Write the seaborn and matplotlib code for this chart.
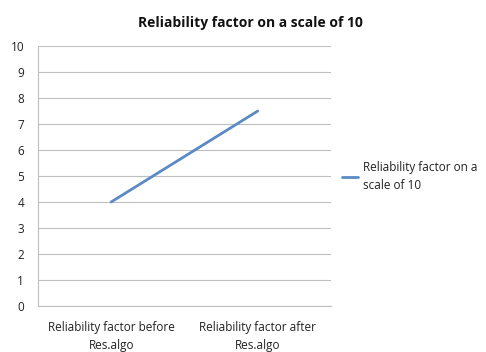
import matplotlib
matplotlib.use("Agg")
import matplotlib.pyplot as plt
import seaborn as sns
import pandas as pd

categories = ["Reliability factor before\nRes.algo", "Reliability factor after\nRes.algo"]
values = [4, 7.5]
series_name = "Reliability factor on a\nscale of 10"
title = "Reliability factor on a scale of 10"
y_ticks = list(range(0, 11))

sns.set_theme(style="white")
plt.rcParams["font.family"] = ["Open Sans", "DejaVu Sans"]

df = pd.DataFrame({"x": range(len(categories)), "y": values, "series": series_name})

fig = plt.figure(figsize=(4.86, 3.52), dpi=100)
ax = fig.add_axes([0.078, 0.131, 0.603, 0.738])

sns.lineplot(data=df, x="x", y="y", hue="series", palette=["#5B8AC4"],
             linewidth=2, ax=ax, legend=True)

grid_color = "#BFBFBF"
ax.set_ylim(0, 10)
ax.set_xlim(-0.5, len(categories) - 0.5)
ax.set_yticks(y_ticks)
ax.set_yticklabels([str(t) for t in y_ticks], fontsize=8.5, color="#222222")
ax.set_xticks(range(len(categories)))
ax.set_xticklabels(categories, fontsize=8.5, color="#222222", linespacing=1.45)
ax.tick_params(axis="x", length=0, pad=11)
ax.set_xticks([i - 0.5 for i in range(len(categories) + 1)], minor=True)
ax.tick_params(axis="x", which="minor", length=4, color=grid_color, width=0.8, direction="out")
ax.tick_params(axis="y", length=4, color=grid_color, width=0.8, direction="out", pad=6)
ax.yaxis.grid(True, color=grid_color, linewidth=0.8)
ax.set_axisbelow(True)
for side in ["top", "right"]:
    ax.spines[side].set_visible(False)
for side in ["left", "bottom"]:
    ax.spines[side].set_color(grid_color)
    ax.spines[side].set_linewidth(0.8)
ax.set_xlabel("")
ax.set_ylabel("")

fig.suptitle(title, x=0.516, y=0.955, fontsize=10, fontweight="bold", color="#111111")

leg = ax.legend(loc="center left", bbox_to_anchor=(1.0, 0.5), frameon=False,
                fontsize=8.5, handlelength=1.4, handletextpad=0.4, alignment="left")
for t in leg.get_texts():
    t.set_color("#222222")
    t.set_linespacing(1.5)

fig.savefig("out.png", dpi=100, facecolor="white")
